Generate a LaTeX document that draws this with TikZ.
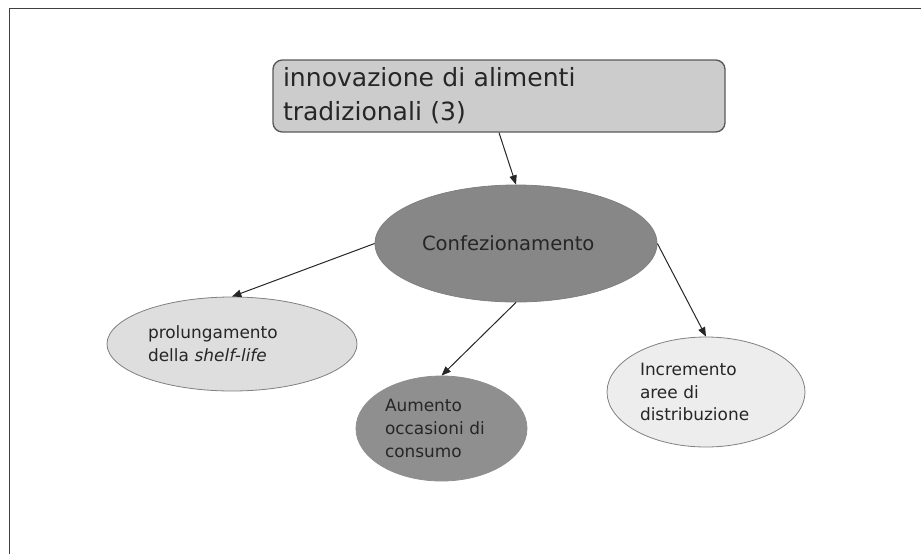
\documentclass[tikz,border=0pt]{standalone}
\usepackage{fontspec}
\setmainfont{DejaVu Sans}
\usetikzlibrary{shapes.geometric,arrows.meta}

\begin{document}
\begin{tikzpicture}[x=0.75pt,y=-0.75pt,
  blob/.style={ellipse,draw=black!50,line width=0.6pt,inner sep=0pt,align=left,text=black!85,font=\fontsize{12.7}{17}\selectfont},
  link/.style={-{Triangle[length=7pt,width=5.5pt]},line width=0.75pt,black!85}]
\useasboundingbox (0,0) rectangle (921,554);
\draw[black!75,line width=1.2pt] (9.5,554) -- (9.5,8.5) -- (921,8.5);

\node[draw=black!65,fill=black!20,rounded corners=7pt,line width=1pt,minimum width=339pt,minimum height=54pt,text width=324pt,inner xsep=7.5pt,inner ysep=0pt,align=left,text=black!85,font=\fontsize{18.8}{25.5}\selectfont] (topic) at (499,96) {innovazione di alimenti\\tradizionali (3)};

\node[blob,fill=black!47,minimum width=211.5pt,minimum height=87.75pt,text width=141pt,font=\fontsize{14.7}{18}\selectfont] (conf) at (516,243.5) {Confezionamento};
\node[blob,fill=black!13,minimum width=187.5pt,minimum height=70.5pt,text width=126pt] (prol) at (232,344) {prolungamento\\della \textit{shelf-life}};
\node[blob,fill=black!44,draw=black!44,minimum width=128.25pt,minimum height=78.75pt,text width=84.75pt] (aum) at (441.5,428.5) {Aumento\\occasioni di\\consumo};
\node[blob,fill=black!7,minimum width=148.5pt,minimum height=82.5pt,text width=99pt] (inc) at (706,392) {Incremento\\aree di\\distribuzione};

\draw[link] (topic.south) -- (conf.north);
\draw[link] (conf.west) -- (prol.north);
\draw[link] (conf.south) -- (aum.north);
\draw[link] (conf.east) -- (inc.north);
\end{tikzpicture}
\end{document}
